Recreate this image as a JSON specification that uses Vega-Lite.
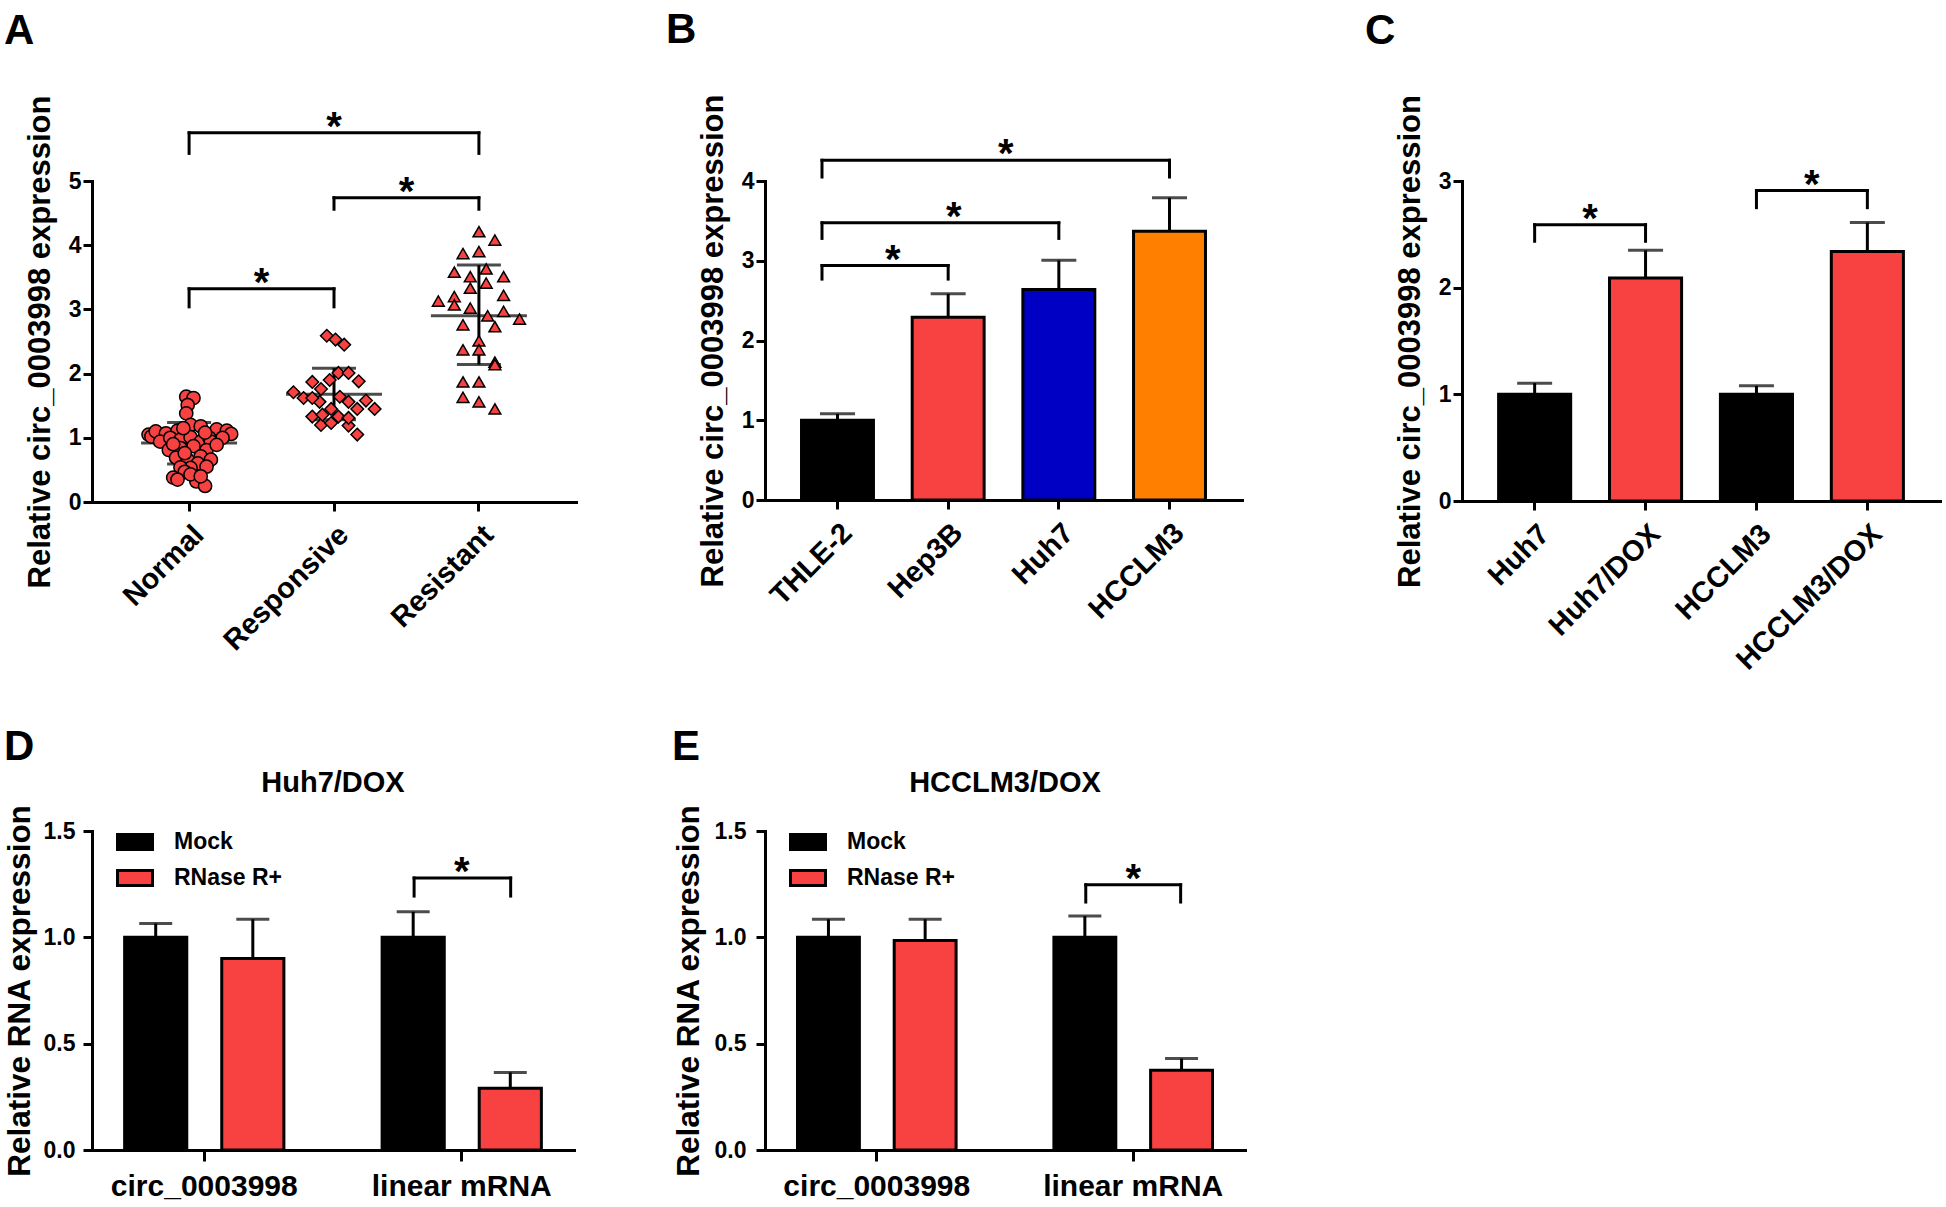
{
  "$schema": "https://vega.github.io/schema/vega-lite/v6.json",
  "background": "white",
  "padding": {"left": 4, "top": 9, "right": 5, "bottom": 5},
  "config": {
    "font": "Liberation Sans",
    "view": {"stroke": null},
    "axis": {"domainColor": "black", "domainWidth": 3, "domainCap": "square", "tickColor": "black", "tickWidth": 3, "tickSize": 9, "labelColor": "black", "labelFont": "Liberation Sans", "labelFontWeight": "bold", "labelFontSize": 23, "titleFont": "Liberation Sans", "titleFontWeight": "bold", "titleFontSize": 31, "titleColor": "black", "grid": false, "labelOverlap": false, "titleLimit": 1000, "labelLimit": 400},
    "title": {"font": "Liberation Sans", "fontSize": 42, "fontWeight": "bold", "color": "black"},
    "legend": {"labelFont": "Liberation Sans"}
  },
  "datasets": {
    "A_points": [
      {"group": "Normal", "value": 1.64, "j": -0.02}, {"group": "Normal", "value": 1.62, "j": 0.03}, {"group": "Normal", "value": 1.51, "j": -0.01}, {"group": "Normal", "value": 1.38, "j": -0.02},
      {"group": "Normal", "value": 1.05, "j": -0.28}, {"group": "Normal", "value": 1.02, "j": -0.26}, {"group": "Normal", "value": 1.10, "j": -0.23}, {"group": "Normal", "value": 1.07, "j": -0.16},
      {"group": "Normal", "value": 1.11, "j": -0.08}, {"group": "Normal", "value": 1.20, "j": 0.01}, {"group": "Normal", "value": 1.18, "j": 0.08}, {"group": "Normal", "value": 1.13, "j": 0.19},
      {"group": "Normal", "value": 1.11, "j": 0.26}, {"group": "Normal", "value": 1.06, "j": 0.29}, {"group": "Normal", "value": 1.00, "j": 0.23}, {"group": "Normal", "value": 0.94, "j": -0.20},
      {"group": "Normal", "value": 1.00, "j": -0.13}, {"group": "Normal", "value": 0.97, "j": -0.06}, {"group": "Normal", "value": 1.01, "j": 0.01}, {"group": "Normal", "value": 0.94, "j": 0.08},
      {"group": "Normal", "value": 1.00, "j": 0.14}, {"group": "Normal", "value": 0.94, "j": 0.15}, {"group": "Normal", "value": 1.15, "j": -0.04}, {"group": "Normal", "value": 1.08, "j": 0.11},
      {"group": "Normal", "value": 0.81, "j": -0.14}, {"group": "Normal", "value": 0.84, "j": -0.06}, {"group": "Normal", "value": 0.87, "j": 0.03}, {"group": "Normal", "value": 0.81, "j": 0.12},
      {"group": "Normal", "value": 0.89, "j": 0.19}, {"group": "Normal", "value": 0.90, "j": -0.11}, {"group": "Normal", "value": 0.69, "j": -0.09}, {"group": "Normal", "value": 0.66, "j": -0.01},
      {"group": "Normal", "value": 0.71, "j": 0.08}, {"group": "Normal", "value": 0.66, "j": 0.15}, {"group": "Normal", "value": 0.76, "j": -0.03}, {"group": "Normal", "value": 0.60, "j": 0.06},
      {"group": "Normal", "value": 0.53, "j": 0.01}, {"group": "Normal", "value": 0.55, "j": 0.12}, {"group": "Normal", "value": 0.54, "j": -0.06}, {"group": "Normal", "value": 0.47, "j": -0.03},
      {"group": "Normal", "value": 0.38, "j": -0.11}, {"group": "Normal", "value": 0.35, "j": -0.08}, {"group": "Normal", "value": 0.32, "j": 0.05}, {"group": "Normal", "value": 0.25, "j": 0.11},
      {"group": "Normal", "value": 0.43, "j": 0.01}, {"group": "Normal", "value": 0.40, "j": 0.08},
      {"group": "Responsive", "value": 2.59, "j": -0.05}, {"group": "Responsive", "value": 2.53, "j": 0.01}, {"group": "Responsive", "value": 2.45, "j": 0.07}, {"group": "Responsive", "value": 2.01, "j": 0.03},
      {"group": "Responsive", "value": 2.01, "j": 0.10}, {"group": "Responsive", "value": 1.90, "j": -0.03}, {"group": "Responsive", "value": 1.88, "j": 0.17}, {"group": "Responsive", "value": 1.87, "j": -0.15},
      {"group": "Responsive", "value": 1.76, "j": -0.09}, {"group": "Responsive", "value": 1.71, "j": -0.28}, {"group": "Responsive", "value": 1.62, "j": -0.21}, {"group": "Responsive", "value": 1.64, "j": 0.04},
      {"group": "Responsive", "value": 1.58, "j": 0.22}, {"group": "Responsive", "value": 1.56, "j": -0.10}, {"group": "Responsive", "value": 1.56, "j": 0.10}, {"group": "Responsive", "value": 1.45, "j": 0.28},
      {"group": "Responsive", "value": 1.45, "j": -0.02}, {"group": "Responsive", "value": 1.45, "j": 0.16}, {"group": "Responsive", "value": 1.33, "j": -0.15}, {"group": "Responsive", "value": 1.33, "j": 0.03},
      {"group": "Responsive", "value": 1.20, "j": -0.09}, {"group": "Responsive", "value": 1.23, "j": -0.02}, {"group": "Responsive", "value": 1.19, "j": 0.10}, {"group": "Responsive", "value": 1.05, "j": 0.16},
      {"group": "Responsive", "value": 1.36, "j": -0.08}, {"group": "Responsive", "value": 1.31, "j": 0.10}, {"group": "Responsive", "value": 1.62, "j": -0.15},
      {"group": "Resistant", "value": 4.21, "j": 0.0}, {"group": "Resistant", "value": 4.08, "j": 0.11}, {"group": "Resistant", "value": 3.87, "j": -0.11}, {"group": "Resistant", "value": 3.90, "j": 0.0},
      {"group": "Resistant", "value": 3.58, "j": -0.17}, {"group": "Resistant", "value": 3.63, "j": 0.05}, {"group": "Resistant", "value": 3.51, "j": 0.17}, {"group": "Resistant", "value": 3.51, "j": -0.06},
      {"group": "Resistant", "value": 3.33, "j": -0.06}, {"group": "Resistant", "value": 3.41, "j": 0.05}, {"group": "Resistant", "value": 3.13, "j": -0.28}, {"group": "Resistant", "value": 3.20, "j": -0.17},
      {"group": "Resistant", "value": 3.07, "j": -0.17}, {"group": "Resistant", "value": 3.22, "j": 0.17}, {"group": "Resistant", "value": 3.02, "j": -0.06}, {"group": "Resistant", "value": 2.90, "j": 0.06},
      {"group": "Resistant", "value": 2.97, "j": 0.17}, {"group": "Resistant", "value": 2.85, "j": 0.28}, {"group": "Resistant", "value": 2.76, "j": -0.11}, {"group": "Resistant", "value": 2.73, "j": 0.11},
      {"group": "Resistant", "value": 2.51, "j": 0.0}, {"group": "Resistant", "value": 2.37, "j": -0.11}, {"group": "Resistant", "value": 2.37, "j": 0.0}, {"group": "Resistant", "value": 2.18, "j": 0.11},
      {"group": "Resistant", "value": 2.14, "j": 0.11}, {"group": "Resistant", "value": 1.87, "j": -0.11}, {"group": "Resistant", "value": 1.87, "j": 0.0}, {"group": "Resistant", "value": 1.63, "j": -0.11},
      {"group": "Resistant", "value": 1.56, "j": 0.0}, {"group": "Resistant", "value": 1.45, "j": 0.11}
    ],
    "A_summary": [
      {"group": "Normal", "mean": 0.92, "lo": 0.59, "hi": 1.24},
      {"group": "Responsive", "mean": 1.68, "lo": 1.28, "hi": 2.085},
      {"group": "Resistant", "mean": 2.90, "lo": 2.14, "hi": 3.69}
    ],
    "A_brackets": [
      {"x1": 0, "x2": 2, "y": 5.75, "tip": 5.43, "sx": 1.0},
      {"x1": 1, "x2": 2, "y": 4.74, "tip": 4.56, "sx": 1.5},
      {"x1": 0, "x2": 1, "y": 3.32, "tip": 3.04, "sx": 0.5}
    ],
    "B_bars": [
      {"cell": "THLE-2", "mean": 1.0, "upper": 1.08},
      {"cell": "Hep3B", "mean": 2.29, "upper": 2.585},
      {"cell": "Huh7", "mean": 2.64, "upper": 3.005},
      {"cell": "HCCLM3", "mean": 3.37, "upper": 3.79}
    ],
    "B_brackets": [
      {"x1": -0.14, "x2": 1, "y": 2.94, "tip": 2.77, "sx": 0.5},
      {"x1": -0.14, "x2": 2, "y": 3.475, "tip": 3.28, "sx": 1.05},
      {"x1": -0.14, "x2": 3, "y": 4.26, "tip": 4.05, "sx": 1.52}
    ],
    "C_bars": [
      {"cell": "Huh7", "mean": 1.0, "upper": 1.105},
      {"cell": "Huh7/DOX", "mean": 2.09, "upper": 2.35},
      {"cell": "HCCLM3", "mean": 1.0, "upper": 1.08},
      {"cell": "HCCLM3/DOX", "mean": 2.34, "upper": 2.61}
    ],
    "C_brackets": [
      {"x1": 0, "x2": 1, "y": 2.59, "tip": 2.435, "sx": 0.5},
      {"x1": 2, "x2": 3, "y": 2.91, "tip": 2.75, "sx": 2.5}
    ],
    "D_bars": [
      {"rna": "circ_0003998", "treatment": "Mock", "mean": 1.0, "upper": 1.065},
      {"rna": "circ_0003998", "treatment": "RNase R+", "mean": 0.9, "upper": 1.085},
      {"rna": "linear mRNA", "treatment": "Mock", "mean": 1.0, "upper": 1.12},
      {"rna": "linear mRNA", "treatment": "RNase R+", "mean": 0.29, "upper": 0.365}
    ],
    "D_brackets": [
      {"x1": 0.815, "x2": 1.19, "y": 1.279, "tip": 1.194, "sx": 1.0}
    ],
    "E_bars": [
      {"rna": "circ_0003998", "treatment": "Mock", "mean": 1.0, "upper": 1.085},
      {"rna": "circ_0003998", "treatment": "RNase R+", "mean": 0.985, "upper": 1.085},
      {"rna": "linear mRNA", "treatment": "Mock", "mean": 1.0, "upper": 1.1},
      {"rna": "linear mRNA", "treatment": "RNase R+", "mean": 0.375, "upper": 0.43}
    ],
    "E_brackets": [
      {"x1": 0.815, "x2": 1.185, "y": 1.247, "tip": 1.166, "sx": 1.0}
    ]
  },
  "resolve": {"scale": {"color": "independent", "xOffset": "independent", "shape": "independent", "size": "independent"}, "legend": {"color": "independent"}},
  "spacing": 120,
  "hconcat": [
    {
      "resolve": {"scale": {"color": "independent", "xOffset": "independent", "shape": "independent", "size": "independent"}, "legend": {"color": "independent"}},
      "spacing": 90,
      "hconcat": [
        {
          "resolve": {"scale": {"color": "independent", "xOffset": "independent", "shape": "independent", "size": "independent"}, "legend": {"color": "independent"}},
          "spacing": 70,
          "vconcat": [
            {
              "title": {"text": "A", "anchor": "start", "frame": "group", "dx": -88, "offset": 42, "fontSize": 42},
              "width": 484,
              "height": 321,
              "resolve": {"scale": {"x": "independent"}},
              "layer": [
                {
                  "encoding": {
                    "x": {"field": "group", "type": "nominal", "title": null, "scale": {"domain": ["Normal", "Responsive", "Resistant"], "paddingInner": 0, "paddingOuter": 0.17}, "axis": {"labelAngle": -45, "labelAlign": "right", "labelBaseline": "top", "labelFontSize": 29, "labelPadding": 9}}
                  },
                  "layer": [
                    {"data": {"name": "A_summary"}, "mark": {"type": "rule", "color": "black", "strokeWidth": 3},
                     "encoding": {"y": {"field": "lo", "type": "quantitative", "title": "Relative circ_0003998 expression", "scale": {"domain": [0, 5], "nice": false}, "axis": {"values": [0, 1, 2, 3, 4, 5], "format": "d", "titlePadding": 12, "labelPadding": 2}}, "y2": {"field": "hi"}}},
                    {"data": {"name": "A_summary"}, "mark": {"type": "tick", "orient": "horizontal", "color": "black", "thickness": 3, "size": 96},
                     "encoding": {"y": {"field": "mean", "type": "quantitative", "title": "Relative circ_0003998 expression", "scale": {"domain": [0, 5], "nice": false}}}},
                    {"data": {"name": "A_summary"}, "mark": {"type": "tick", "orient": "horizontal", "color": "black", "thickness": 3, "size": 44},
                     "encoding": {"y": {"field": "lo", "type": "quantitative", "title": "Relative circ_0003998 expression", "scale": {"domain": [0, 5], "nice": false}}}},
                    {"data": {"name": "A_summary"}, "mark": {"type": "tick", "orient": "horizontal", "color": "black", "thickness": 3, "size": 44},
                     "encoding": {"y": {"field": "hi", "type": "quantitative", "title": "Relative circ_0003998 expression", "scale": {"domain": [0, 5], "nice": false}}}},
                    {"data": {"name": "A_points"}, "mark": {"type": "point", "filled": true, "color": "#F84242", "stroke": "black", "strokeWidth": 1.5, "opacity": 1},
                     "encoding": {
                       "xOffset": {"field": "j", "type": "quantitative", "scale": {"domain": [-0.5, 0.5], "range": [0, 145]}},
                       "y": {"field": "value", "type": "quantitative", "title": "Relative circ_0003998 expression", "scale": {"domain": [0, 5], "nice": false}},
                       "shape": {"field": "group", "type": "nominal", "scale": {"domain": ["Normal", "Responsive", "Resistant"], "range": ["circle", "diamond", "triangle-up"]}, "legend": null},
                       "size": {"field": "group", "type": "nominal", "scale": {"domain": ["Normal", "Responsive", "Resistant"], "range": [175, 140, 200]}, "legend": null}
                     }}
                  ]
                },
                {
                  "data": {"name": "A_brackets"},
                  "layer": [
                    {"mark": {"type": "rule", "color": "black", "strokeWidth": 3, "strokeCap": "square"},
                     "encoding": {"x": {"field": "x1", "type": "quantitative", "scale": {"domain": [-0.67, 2.67], "nice": false, "zero": false}, "axis": null}, "x2": {"field": "x2"}, "y": {"field": "y", "type": "quantitative", "title": "Relative circ_0003998 expression", "scale": {"domain": [0, 5], "nice": false}}}},
                    {"mark": {"type": "rule", "color": "black", "strokeWidth": 3, "strokeCap": "square"},
                     "encoding": {"x": {"field": "x1", "type": "quantitative", "scale": {"domain": [-0.67, 2.67], "nice": false, "zero": false}, "axis": null}, "y": {"field": "y", "type": "quantitative", "title": "Relative circ_0003998 expression", "scale": {"domain": [0, 5], "nice": false}}, "y2": {"field": "tip"}}},
                    {"mark": {"type": "rule", "color": "black", "strokeWidth": 3, "strokeCap": "square"},
                     "encoding": {"x": {"field": "x2", "type": "quantitative", "scale": {"domain": [-0.67, 2.67], "nice": false, "zero": false}, "axis": null}, "y": {"field": "y", "type": "quantitative", "title": "Relative circ_0003998 expression", "scale": {"domain": [0, 5], "nice": false}}, "y2": {"field": "tip"}}},
                    {"mark": {"type": "text", "text": "*", "fontSize": 40, "fontWeight": "bold", "color": "black", "dy": 7, "baseline": "alphabetic", "align": "center"},
                     "encoding": {"x": {"field": "sx", "type": "quantitative", "scale": {"domain": [-0.67, 2.67], "nice": false, "zero": false}, "axis": null}, "y": {"field": "y", "type": "quantitative", "title": "Relative circ_0003998 expression", "scale": {"domain": [0, 5], "nice": false}}}}
                  ]
                }
              ]
            },
            {
              "resolve": {"scale": {"color": "independent", "xOffset": "independent"}, "legend": {"color": "independent"}},
              "title": {"text": "D", "anchor": "start", "frame": "group", "dx": -88, "offset": 0, "fontSize": 42},
              "vconcat": [
                {
                  "title": {"text": "Huh7/DOX", "anchor": "middle", "frame": "group", "fontSize": 29, "offset": 6},
                  "width": 482,
                  "height": 319,
                  "resolve": {"scale": {"x": "independent"}},
                  "layer": [
                    {
                      "data": {"name": "D_bars"},
                      "encoding": {
                        "x": {"field": "rna", "type": "nominal", "title": null, "scale": {"domain": ["circ_0003998", "linear mRNA"], "paddingInner": 0.3, "paddingOuter": 0.086}, "axis": {"labelAngle": 0, "labelFontSize": 30, "labelPadding": 10, "tickSize": 11}},
                        "xOffset": {"field": "treatment", "type": "nominal", "scale": {"domain": ["Mock", "RNase R+"], "paddingInner": 0.36, "paddingOuter": 0.108}}
                      },
                      "layer": [
                        {"mark": {"type": "rule", "color": "black", "strokeWidth": 3},
                         "encoding": {"y": {"field": "mean", "type": "quantitative", "title": "Relative RNA expression", "scale": {"domain": [0, 1.5], "nice": false}, "axis": {"values": [0, 0.5, 1, 1.5], "format": ".1f", "labelPadding": 8, "titlePadding": 7, "titleFontSize": 31.5}}, "y2": {"field": "upper"}}},
                        {"mark": {"type": "tick", "orient": "horizontal", "color": "black", "thickness": 3, "size": 33},
                         "encoding": {"y": {"field": "upper", "type": "quantitative", "title": "Relative RNA expression", "scale": {"domain": [0, 1.5], "nice": false}}}},
                        {"mark": {"type": "bar", "stroke": "black", "strokeWidth": 3},
                         "encoding": {"y": {"field": "mean", "type": "quantitative", "title": "Relative RNA expression", "scale": {"domain": [0, 1.5], "nice": false}},
                           "color": {"field": "treatment", "type": "nominal", "scale": {"domain": ["Mock", "RNase R+"], "range": ["black", "#F84242"]},
                             "legend": {"orient": "none", "legendX": 24, "legendY": -8, "title": null, "symbolType": "M-1,-0.43H1V0.43H-1Z", "symbolSize": 1225, "symbolStrokeWidth": 3, "symbolStrokeColor": "black", "symbolOpacity": 1, "labelFontSize": 23, "labelFontWeight": "bold", "labelColor": "black", "labelOffset": 20, "rowPadding": 3}}}}
                      ]
                    },
                    {
                      "data": {"name": "D_brackets"},
                      "layer": [
                        {"mark": {"type": "rule", "color": "black", "strokeWidth": 3, "strokeCap": "square"},
                         "encoding": {"x": {"field": "x1", "type": "quantitative", "scale": {"domain": [-0.436, 1.436], "nice": false, "zero": false}, "axis": null}, "x2": {"field": "x2"}, "y": {"field": "y", "type": "quantitative", "title": "Relative RNA expression", "scale": {"domain": [0, 1.5], "nice": false}}}},
                        {"mark": {"type": "rule", "color": "black", "strokeWidth": 3, "strokeCap": "square"},
                         "encoding": {"x": {"field": "x1", "type": "quantitative", "scale": {"domain": [-0.436, 1.436], "nice": false, "zero": false}, "axis": null}, "y": {"field": "y", "type": "quantitative", "title": "Relative RNA expression", "scale": {"domain": [0, 1.5], "nice": false}}, "y2": {"field": "tip"}}},
                        {"mark": {"type": "rule", "color": "black", "strokeWidth": 3, "strokeCap": "square"},
                         "encoding": {"x": {"field": "x2", "type": "quantitative", "scale": {"domain": [-0.436, 1.436], "nice": false, "zero": false}, "axis": null}, "y": {"field": "y", "type": "quantitative", "title": "Relative RNA expression", "scale": {"domain": [0, 1.5], "nice": false}}, "y2": {"field": "tip"}}},
                        {"mark": {"type": "text", "text": "*", "fontSize": 40, "fontWeight": "bold", "color": "black", "dy": 7, "baseline": "alphabetic", "align": "center"},
                         "encoding": {"x": {"field": "sx", "type": "quantitative", "scale": {"domain": [-0.436, 1.436], "nice": false, "zero": false}, "axis": null}, "y": {"field": "y", "type": "quantitative", "title": "Relative RNA expression", "scale": {"domain": [0, 1.5], "nice": false}}}}
                      ]
                    }
                  ]
                }
              ]
            }
          ]
        },
        {
          "resolve": {"scale": {"color": "independent", "xOffset": "independent", "shape": "independent", "size": "independent"}, "legend": {"color": "independent"}},
          "spacing": 102,
          "vconcat": [
            {
              "title": {"text": "B", "anchor": "start", "frame": "group", "dx": -99, "offset": 42, "fontSize": 42},
              "width": 477,
              "height": 319,
              "resolve": {"scale": {"x": "independent"}},
              "layer": [
                {
                  "data": {"name": "B_bars"},
                  "encoding": {
                    "x": {"field": "cell", "type": "nominal", "title": null, "scale": {"domain": ["THLE-2", "Hep3B", "Huh7", "HCCLM3"], "paddingInner": 0.35, "paddingOuter": 0.33}, "axis": {"labelAngle": -45, "labelAlign": "right", "labelBaseline": "top", "labelFontSize": 29, "labelPadding": 9}}
                  },
                  "layer": [
                    {"mark": {"type": "rule", "color": "black", "strokeWidth": 3},
                     "encoding": {"y": {"field": "mean", "type": "quantitative", "title": "Relative circ_0003998 expression", "scale": {"domain": [0, 4], "nice": false}, "axis": {"values": [0, 1, 2, 3, 4], "format": "d", "titlePadding": 12, "labelPadding": 2}}, "y2": {"field": "upper"}}},
                    {"mark": {"type": "tick", "orient": "horizontal", "color": "black", "thickness": 3, "size": 35},
                     "encoding": {"y": {"field": "upper", "type": "quantitative", "title": "Relative circ_0003998 expression", "scale": {"domain": [0, 4], "nice": false}}}},
                    {"mark": {"type": "bar", "stroke": "black", "strokeWidth": 3},
                     "encoding": {"y": {"field": "mean", "type": "quantitative", "title": "Relative circ_0003998 expression", "scale": {"domain": [0, 4], "nice": false}},
                       "color": {"field": "cell", "type": "nominal", "scale": {"domain": ["THLE-2", "Hep3B", "Huh7", "HCCLM3"], "range": ["black", "#F84242", "#0000C4", "#FF8000"]}, "legend": null}}}
                  ]
                },
                {
                  "data": {"name": "B_brackets"},
                  "layer": [
                    {"mark": {"type": "rule", "color": "black", "strokeWidth": 3, "strokeCap": "square"},
                     "encoding": {"x": {"field": "x1", "type": "quantitative", "scale": {"domain": [-0.655, 3.655], "nice": false, "zero": false}, "axis": null}, "x2": {"field": "x2"}, "y": {"field": "y", "type": "quantitative", "title": "Relative circ_0003998 expression", "scale": {"domain": [0, 4], "nice": false}}}},
                    {"mark": {"type": "rule", "color": "black", "strokeWidth": 3, "strokeCap": "square"},
                     "encoding": {"x": {"field": "x1", "type": "quantitative", "scale": {"domain": [-0.655, 3.655], "nice": false, "zero": false}, "axis": null}, "y": {"field": "y", "type": "quantitative", "title": "Relative circ_0003998 expression", "scale": {"domain": [0, 4], "nice": false}}, "y2": {"field": "tip"}}},
                    {"mark": {"type": "rule", "color": "black", "strokeWidth": 3, "strokeCap": "square"},
                     "encoding": {"x": {"field": "x2", "type": "quantitative", "scale": {"domain": [-0.655, 3.655], "nice": false, "zero": false}, "axis": null}, "y": {"field": "y", "type": "quantitative", "title": "Relative circ_0003998 expression", "scale": {"domain": [0, 4], "nice": false}}, "y2": {"field": "tip"}}},
                    {"mark": {"type": "text", "text": "*", "fontSize": 40, "fontWeight": "bold", "color": "black", "dy": 7, "baseline": "alphabetic", "align": "center"},
                     "encoding": {"x": {"field": "sx", "type": "quantitative", "scale": {"domain": [-0.655, 3.655], "nice": false, "zero": false}, "axis": null}, "y": {"field": "y", "type": "quantitative", "title": "Relative circ_0003998 expression", "scale": {"domain": [0, 4], "nice": false}}}}
                  ]
                }
              ]
            },
            {
              "resolve": {"scale": {"color": "independent", "xOffset": "independent"}, "legend": {"color": "independent"}},
              "title": {"text": "E", "anchor": "start", "frame": "group", "dx": -93, "offset": 0, "fontSize": 42},
              "vconcat": [
                {
                  "title": {"text": "HCCLM3/DOX", "anchor": "middle", "frame": "group", "fontSize": 29, "offset": 6},
                  "width": 480,
                  "height": 319,
                  "resolve": {"scale": {"x": "independent"}},
                  "layer": [
                    {
                      "data": {"name": "E_bars"},
                      "encoding": {
                        "x": {"field": "rna", "type": "nominal", "title": null, "scale": {"domain": ["circ_0003998", "linear mRNA"], "paddingInner": 0.3, "paddingOuter": 0.086}, "axis": {"labelAngle": 0, "labelFontSize": 30, "labelPadding": 10, "tickSize": 11}},
                        "xOffset": {"field": "treatment", "type": "nominal", "scale": {"domain": ["Mock", "RNase R+"], "paddingInner": 0.36, "paddingOuter": 0.108}}
                      },
                      "layer": [
                        {"mark": {"type": "rule", "color": "black", "strokeWidth": 3},
                         "encoding": {"y": {"field": "mean", "type": "quantitative", "title": "Relative RNA expression", "scale": {"domain": [0, 1.5], "nice": false}, "axis": {"values": [0, 0.5, 1, 1.5], "format": ".1f", "labelPadding": 10, "titlePadding": 9, "titleFontSize": 31.5}}, "y2": {"field": "upper"}}},
                        {"mark": {"type": "tick", "orient": "horizontal", "color": "black", "thickness": 3, "size": 33},
                         "encoding": {"y": {"field": "upper", "type": "quantitative", "title": "Relative RNA expression", "scale": {"domain": [0, 1.5], "nice": false}}}},
                        {"mark": {"type": "bar", "stroke": "black", "strokeWidth": 3},
                         "encoding": {"y": {"field": "mean", "type": "quantitative", "title": "Relative RNA expression", "scale": {"domain": [0, 1.5], "nice": false}},
                           "color": {"field": "treatment", "type": "nominal", "scale": {"domain": ["Mock", "RNase R+"], "range": ["black", "#F84242"]},
                             "legend": {"orient": "none", "legendX": 24, "legendY": -8, "title": null, "symbolType": "M-1,-0.43H1V0.43H-1Z", "symbolSize": 1225, "symbolStrokeWidth": 3, "symbolStrokeColor": "black", "symbolOpacity": 1, "labelFontSize": 23, "labelFontWeight": "bold", "labelColor": "black", "labelOffset": 20, "rowPadding": 3}}}}
                      ]
                    },
                    {
                      "data": {"name": "E_brackets"},
                      "layer": [
                        {"mark": {"type": "rule", "color": "black", "strokeWidth": 3, "strokeCap": "square"},
                         "encoding": {"x": {"field": "x1", "type": "quantitative", "scale": {"domain": [-0.436, 1.436], "nice": false, "zero": false}, "axis": null}, "x2": {"field": "x2"}, "y": {"field": "y", "type": "quantitative", "title": "Relative RNA expression", "scale": {"domain": [0, 1.5], "nice": false}}}},
                        {"mark": {"type": "rule", "color": "black", "strokeWidth": 3, "strokeCap": "square"},
                         "encoding": {"x": {"field": "x1", "type": "quantitative", "scale": {"domain": [-0.436, 1.436], "nice": false, "zero": false}, "axis": null}, "y": {"field": "y", "type": "quantitative", "title": "Relative RNA expression", "scale": {"domain": [0, 1.5], "nice": false}}, "y2": {"field": "tip"}}},
                        {"mark": {"type": "rule", "color": "black", "strokeWidth": 3, "strokeCap": "square"},
                         "encoding": {"x": {"field": "x2", "type": "quantitative", "scale": {"domain": [-0.436, 1.436], "nice": false, "zero": false}, "axis": null}, "y": {"field": "y", "type": "quantitative", "title": "Relative RNA expression", "scale": {"domain": [0, 1.5], "nice": false}}, "y2": {"field": "tip"}}},
                        {"mark": {"type": "text", "text": "*", "fontSize": 40, "fontWeight": "bold", "color": "black", "dy": 7, "baseline": "alphabetic", "align": "center"},
                         "encoding": {"x": {"field": "sx", "type": "quantitative", "scale": {"domain": [-0.436, 1.436], "nice": false, "zero": false}, "axis": null}, "y": {"field": "y", "type": "quantitative", "title": "Relative RNA expression", "scale": {"domain": [0, 1.5], "nice": false}}}}
                      ]
                    }
                  ]
                }
              ]
            }
          ]
        }
      ]
    },
    {
      "resolve": {"scale": {"color": "independent"}, "legend": {"color": "independent"}},
      "vconcat": [
        {
          "title": {"text": "C", "anchor": "start", "frame": "group", "dx": -97, "offset": 42, "fontSize": 42},
          "width": 478,
          "height": 320,
          "resolve": {"scale": {"x": "independent"}},
          "layer": [
            {
              "data": {"name": "C_bars"},
              "encoding": {
                "x": {"field": "cell", "type": "nominal", "title": null, "scale": {"domain": ["Huh7", "Huh7/DOX", "HCCLM3", "HCCLM3/DOX"], "paddingInner": 0.35, "paddingOuter": 0.33}, "axis": {"labelAngle": -45, "labelAlign": "right", "labelBaseline": "top", "labelFontSize": 29, "labelPadding": 9}}
              },
              "layer": [
                {"mark": {"type": "rule", "color": "black", "strokeWidth": 3},
                 "encoding": {"y": {"field": "mean", "type": "quantitative", "title": "Relative circ_0003998 expression", "scale": {"domain": [0, 3], "nice": false}, "axis": {"values": [0, 1, 2, 3], "format": "d", "titlePadding": 12, "labelPadding": 2}}, "y2": {"field": "upper"}}},
                {"mark": {"type": "tick", "orient": "horizontal", "color": "black", "thickness": 3, "size": 35},
                 "encoding": {"y": {"field": "upper", "type": "quantitative", "title": "Relative circ_0003998 expression", "scale": {"domain": [0, 3], "nice": false}}}},
                {"mark": {"type": "bar", "stroke": "black", "strokeWidth": 3},
                 "encoding": {"y": {"field": "mean", "type": "quantitative", "title": "Relative circ_0003998 expression", "scale": {"domain": [0, 3], "nice": false}},
                   "color": {"field": "cell", "type": "nominal", "scale": {"domain": ["Huh7", "Huh7/DOX", "HCCLM3", "HCCLM3/DOX"], "range": ["black", "#F84242", "black", "#F84242"]}, "legend": null}}}
              ]
            },
            {
              "data": {"name": "C_brackets"},
              "layer": [
                {"mark": {"type": "rule", "color": "black", "strokeWidth": 3, "strokeCap": "square"},
                 "encoding": {"x": {"field": "x1", "type": "quantitative", "scale": {"domain": [-0.655, 3.655], "nice": false, "zero": false}, "axis": null}, "x2": {"field": "x2"}, "y": {"field": "y", "type": "quantitative", "title": "Relative circ_0003998 expression", "scale": {"domain": [0, 3], "nice": false}}}},
                {"mark": {"type": "rule", "color": "black", "strokeWidth": 3, "strokeCap": "square"},
                 "encoding": {"x": {"field": "x1", "type": "quantitative", "scale": {"domain": [-0.655, 3.655], "nice": false, "zero": false}, "axis": null}, "y": {"field": "y", "type": "quantitative", "title": "Relative circ_0003998 expression", "scale": {"domain": [0, 3], "nice": false}}, "y2": {"field": "tip"}}},
                {"mark": {"type": "rule", "color": "black", "strokeWidth": 3, "strokeCap": "square"},
                 "encoding": {"x": {"field": "x2", "type": "quantitative", "scale": {"domain": [-0.655, 3.655], "nice": false, "zero": false}, "axis": null}, "y": {"field": "y", "type": "quantitative", "title": "Relative circ_0003998 expression", "scale": {"domain": [0, 3], "nice": false}}, "y2": {"field": "tip"}}},
                {"mark": {"type": "text", "text": "*", "fontSize": 40, "fontWeight": "bold", "color": "black", "dy": 7, "baseline": "alphabetic", "align": "center"},
                 "encoding": {"x": {"field": "sx", "type": "quantitative", "scale": {"domain": [-0.655, 3.655], "nice": false, "zero": false}, "axis": null}, "y": {"field": "y", "type": "quantitative", "title": "Relative circ_0003998 expression", "scale": {"domain": [0, 3], "nice": false}}}}
              ]
            }
          ]
        }
      ]
    }
  ]
}
